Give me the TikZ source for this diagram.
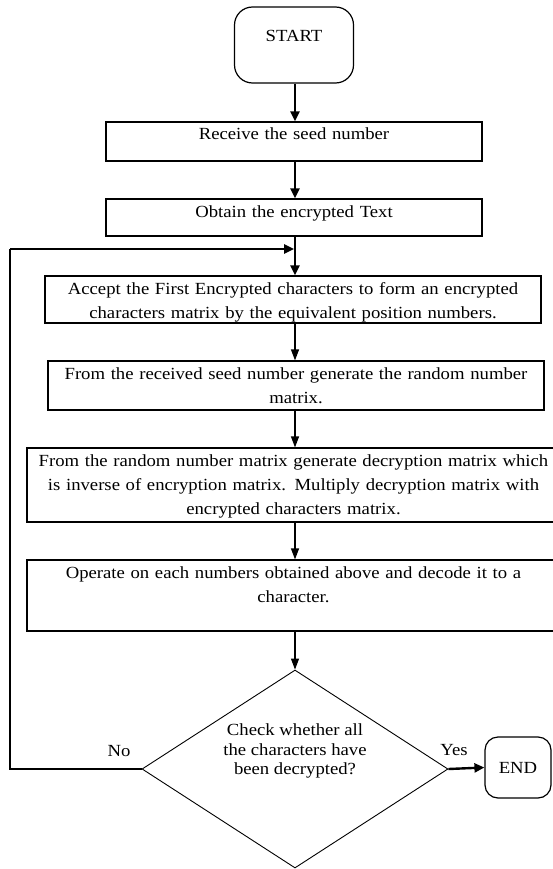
\documentclass[tikz,border=0pt]{standalone}
\usepackage{fontspec}
\setmainfont{Liberation Serif}[FakeStretch=1.1]
\usetikzlibrary{shapes.geometric,arrows.meta}

\tikzset{
  procbox/.style={draw, line width=1.2pt, inner sep=0pt, align=center, text height=18pt, font=\fontsize{17}{24}\selectfont},
  terminal/.style={draw, line width=1.2pt, inner sep=0pt, font=\fontsize{17}{24}\selectfont},
  decision/.style={draw, shape=diamond, line width=0.9pt, inner sep=0pt, minimum width=306pt, minimum height=198pt},
  thickarr/.style={line width=2.4pt, -{Triangle[length=10pt,width=9pt]}},
  thinarr/.style={line width=1.2pt, -{Triangle[length=11pt,width=8pt]}},
  loopline/.style={line width=1.2pt},
  lbl/.style={font=\fontsize{17}{20}\selectfont, inner sep=0pt}
}

\begin{document}
\begin{tikzpicture}[x=1pt,y=-1pt]
	\useasboundingbox (0,0) rectangle (553,869);
	\coordinate (spine) at (295,0);

	\node[terminal, rounded corners=18pt, minimum width=119pt, text height=35pt, text depth=41pt] (start) at (294,45) {START};
	\node[procbox, text width=376pt, text depth=21pt] (recv) at (294,141.5) {Receive the seed number};
	\node[procbox, text width=376pt, text depth=19pt] (obtain) at (294,217.5) {Obtain the encrypted Text};
	\node[procbox, text width=496pt, text depth=29pt] (accept) at (293,299.5) {Accept the First Encrypted characters to form an encrypted\\ characters matrix by the equivalent position numbers.};
	\node[procbox, text width=496pt, text depth=31pt] (random) at (296,385.5) {From the received seed number generate the random number\\ matrix.};
	\node[procbox, text width=533pt, text depth=56pt] (inverse) at (293.5,485) {From the random number matrix generate decryption matrix which\\ is inverse of encryption matrix. Multiply decryption matrix with\\ encrypted characters matrix.};
	\node[procbox, text width=533pt, text depth=53pt] (decode) at (293.5,595.5) {Operate on each numbers obtained above and decode it to a\\ character.};
	\node[decision] (check) at (295,769) {};
	\node[align=center, inner sep=0pt, font=\fontsize{17}{19.5}\selectfont] (checktext) at (295,751) {Check whether all\\ the characters have\\ been decrypted?};
	\node[terminal, rounded corners=13pt, minimum width=66pt, minimum height=61pt] (end) at (518,767.5) {END};

	\node[lbl] (nolabel) at (119,751) {No};
	\node[lbl] (yeslabel) at (454,750) {Yes};

	\coordinate (loop) at (10,249);
	\coordinate (join) at (294,249);

	\draw[thickarr] (start.south -| spine) -- (recv.north -| spine);
	\draw[thickarr] (recv.south -| spine) -- (obtain.north -| spine);
	\draw[thickarr] (obtain.south -| spine) -- (accept.north -| spine);
	\draw[thinarr] (accept.south -| spine) -- (random.north -| spine);
	\draw[thinarr] (random.south -| spine) -- (inverse.north -| spine);
	\draw[thinarr] (inverse.south -| spine) -- (decode.north -| spine);
	\draw[thinarr] (decode.south -| spine) -- (check.north);
	\draw[thickarr] (check.east) -- (end.west);
	\draw[loopline] (check.west) -| (loop);
	\draw[thickarr] (loop) -- (join);
\end{tikzpicture}
\end{document}
